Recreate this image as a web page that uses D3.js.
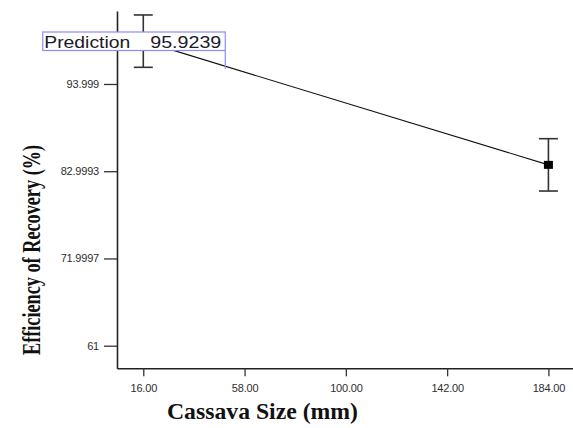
<!DOCTYPE html>
<html>
<head>
<meta charset="utf-8">
<script src="https://cdn.jsdelivr.net/npm/d3@7"></script>
<style>
  html, body { margin: 0; padding: 0; background: #fff; }
  svg { display: block; }
</style>
</head>
<body>
<svg id="chart" width="573" height="428"></svg>
<script>
// One-factor effect: efficiency of recovery vs cassava size
const sizes = [16, 184];                  // design points (mm)
const efficiency = [99.4, 83.8];          // predicted mean (%)
const errHalf = [3.3, 3.3];               // error bar half-width (%)
const xTicks = [16, 58, 100, 142, 184];
const xTickLabels = ["16.00", "58.00", "100.00", "142.00", "184.00"];
const yTicks = [61, 71.9997, 82.9993, 93.999];
const yTickLabels = ["61", "71.9997", "82.9993", "93.999"];
const flagX = 50;
const flagValue = 95.9239;
const flagLabel = "Prediction";

const svg = d3.select("#chart");

const x = d3.scaleLinear().domain([5.1, 194.9]).range([117, 574.7]);
const y = d3.scaleLinear().domain([58.15, 103.2]).range([368.3, 11]);

// axes
const xAxis = d3.axisBottom(x)
  .tickValues(xTicks)
  .tickFormat((d, i) => xTickLabels[i])
  .tickSize(8).tickSizeOuter(0).tickPadding(8);
const yAxis = d3.axisLeft(y)
  .tickValues(yTicks)
  .tickFormat((d, i) => yTickLabels[i])
  .tickSize(13).tickSizeOuter(0).tickPadding(5);

const gx = svg.append("g").attr("transform", `translate(0,${y.range()[0]})`).call(xAxis);
const gy = svg.append("g").attr("transform", `translate(${x.range()[0]},0)`).call(yAxis);

[gx, gy].forEach(g => {
  g.select(".domain").attr("stroke", "#222").attr("stroke-width", 1.6);
  g.selectAll(".tick line").attr("stroke", "#333").attr("stroke-width", 1.3);
  g.selectAll(".tick text")
    .attr("fill", "#2e2e2e")
    .style("font-family", "Arial, 'Liberation Sans', sans-serif")
    .style("font-size", "11px")
    .style("letter-spacing", "-0.2px");
});

// axis titles
svg.append("text")
  .attr("x", 167).attr("y", 418.5)
  .attr("textLength", 191).attr("lengthAdjust", "spacingAndGlyphs")
  .style("font-family", "'Liberation Serif', 'Times New Roman', serif")
  .style("font-weight", "bold")
  .style("font-size", "24px")
  .attr("fill", "#111")
  .text("Cassava Size (mm)");

svg.append("text")
  .attr("transform", "translate(40,355) rotate(-90)")
  .attr("x", 0).attr("y", 0)
  .attr("textLength", 210).attr("lengthAdjust", "spacingAndGlyphs")
  .style("font-family", "'Liberation Serif', 'Times New Roman', serif")
  .style("font-weight", "bold")
  .style("font-size", "26px")
  .attr("fill", "#111")
  .text("Efficiency of Recovery (%)");

// error bars
const pts = sizes.map((s, i) => ({ s, v: efficiency[i], e: errHalf[i] }));
const capW = 9.5;
const eb = svg.append("g").attr("stroke", "#333").attr("stroke-width", 1.6);
eb.selectAll("line.v").data(pts).join("line")
  .attr("x1", d => x(d.s)).attr("x2", d => x(d.s))
  .attr("y1", d => y(d.v + d.e)).attr("y2", d => y(d.v - d.e));
eb.selectAll("line.top").data(pts).join("line")
  .attr("x1", d => x(d.s) - capW).attr("x2", d => x(d.s) + capW)
  .attr("y1", d => y(d.v + d.e)).attr("y2", d => y(d.v + d.e));
eb.selectAll("line.bot").data(pts).join("line")
  .attr("x1", d => x(d.s) - capW).attr("x2", d => x(d.s) + capW)
  .attr("y1", d => y(d.v - d.e)).attr("y2", d => y(d.v - d.e));

// effect line
svg.append("path")
  .datum(pts)
  .attr("fill", "none")
  .attr("stroke", "#111")
  .attr("stroke-width", 1.1)
  .attr("d", d3.line().x(d => x(d.s)).y(d => y(d.v)));

// design point markers
svg.selectAll("rect.pt").data(pts).join("rect")
  .attr("x", d => x(d.s) - 4.5).attr("y", d => y(d.v) - 4)
  .attr("width", 9).attr("height", 8)
  .attr("fill", "#000");

// prediction flag anchored at (flagX, flagValue)
const ax = x(flagX), ay = y(flagValue);
const boxW = 182.5, boxH = 18.5, boxTop = 32;
const flag = svg.append("g");
flag.append("rect")
  .attr("x", ax - boxW).attr("y", boxTop)
  .attr("width", boxW).attr("height", boxH)
  .attr("fill", "#fff")
  .attr("stroke", "#8c8cf5").attr("stroke-width", 1.2);
flag.append("line")
  .attr("x1", ax).attr("x2", ax)
  .attr("y1", boxTop + boxH).attr("y2", ay)
  .attr("stroke", "#8c8cf5").attr("stroke-width", 1.2);
flag.append("text")
  .attr("x", ax - boxW + 1.5).attr("y", boxTop + 15.5)
  .attr("textLength", 86).attr("lengthAdjust", "spacingAndGlyphs")
  .style("font-family", "Arial, 'Liberation Sans', sans-serif")
  .style("font-size", "17px")
  .attr("fill", "#1a1a2a")
  .text(flagLabel);
flag.append("text")
  .attr("x", ax - 75).attr("y", boxTop + 15.5)
  .attr("textLength", 71).attr("lengthAdjust", "spacingAndGlyphs")
  .style("font-family", "Arial, 'Liberation Sans', sans-serif")
  .style("font-size", "17px")
  .attr("fill", "#1a1a2a")
  .text(flagValue.toFixed(4));
</script>
</body>
</html>
